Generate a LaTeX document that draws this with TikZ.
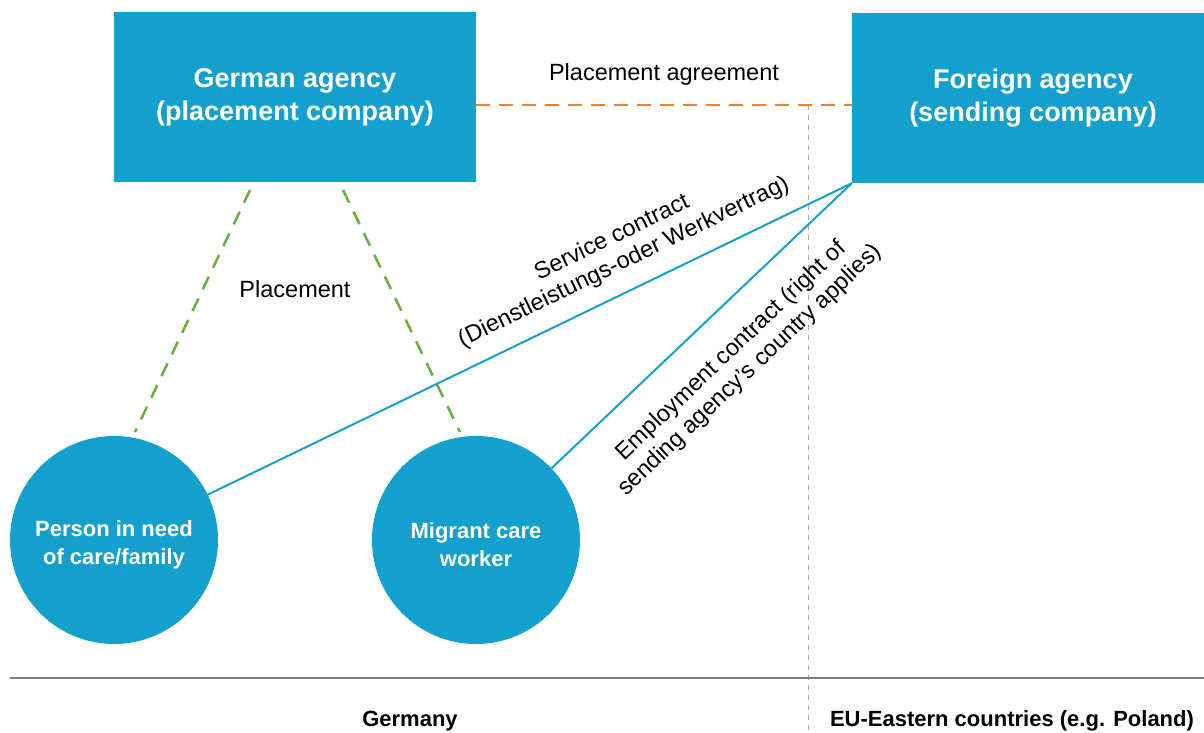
\documentclass[tikz,border=0pt]{standalone}
\usepackage{fontspec}
\setmainfont{Liberation Sans}
\definecolor{cblue}{RGB}{20,160,205}
\definecolor{corange}{RGB}{240,128,48}
\definecolor{cgreen}{RGB}{106,175,61}
\definecolor{cgrayline}{RGB}{125,125,125}
\definecolor{cgraydash}{RGB}{170,170,170}
\tikzset{
  agencybox/.style={fill=cblue, draw=none, text=white, font=\fontsize{27}{33}\selectfont\bfseries, align=center, inner sep=0pt},
  personcircle/.style={circle, fill=cblue, draw=none, minimum size=208pt, inner sep=0pt},
  persontext/.style={text=white, inner sep=0pt, font=\fontsize{22}{28}\selectfont\bfseries, align=center, yshift=-5pt},
  lbl/.style={font=\fontsize{23.5}{27}\selectfont, text=black, align=center, inner sep=0pt},
  regionlbl/.style={font=\fontsize{22}{26}\selectfont\bfseries, text=black, inner sep=0pt},
  contractline/.style={draw=cblue, line width=2pt},
  placementline/.style={draw=cgreen, line width=2.5pt, dash pattern=on 14pt off 10pt},
  agreementline/.style={draw=corange, line width=2.5pt, dash pattern=on 14pt off 9pt},
  borderline/.style={draw=cgraydash, line width=1pt, dash pattern=on 5pt off 5pt},
  groundline/.style={draw=cgrayline, line width=2pt}
}
\begin{document}
\begin{tikzpicture}[x=1pt, y=-1pt]
\useasboundingbox (0,0) rectangle (1204,733);
\fill[white] (0,0) rectangle (1204,733);

% agencies
\node[agencybox, minimum width=362pt, minimum height=170pt] (ga) at (295,97) {\rule{0pt}{0pt}German agency\\(placement company)};
\node[agencybox, minimum width=352pt, minimum height=170pt] (fa) at (1028,98) {\hspace*{10pt}Foreign agency\\\hspace*{10pt}(sending company)};

% persons
\node[personcircle, label={[persontext]center:Person in need\\of care/family}] (pc) at (114,540) {};
\node[personcircle, label={[persontext]center:Migrant care\\worker}] (mw) at (476,540) {};

% dividing lines
\coordinate (dl) at (0,105);
\coordinate (vtop) at (808,105);
\coordinate (vbot) at (808,733);
\draw[borderline] (vtop) -- (vbot);
\coordinate (gl) at (10,678);
\coordinate (gr) at (1204,678);
\draw[groundline] (gl) -- (gr);

% placement agreement
\draw[agreementline] (ga.east |- dl) -- (fa.west |- dl);
\node[lbl] (pa) at (664,74) {Placement agreement};

% placement
\coordinate (g1a) at (250,190);
\coordinate (g1b) at (135,432);
\coordinate (g2a) at (343,190);
\coordinate (g2b) at (460,432);
\draw[placementline] (g1a) -- (g1b);
\draw[placementline] (g2a) -- (g2b);
\node[lbl] (pl) at (295,289) {Placement};

% contracts
\draw[contractline] (pc) -- node[lbl, sloped, pos=0.665, above=16pt] (sc) {Service contract\\(Dienstleistungs-oder Werkvertrag)} (fa.south west);
\draw[contractline] (mw) -- node[lbl, sloped, pos=0.51, below=27pt] (ec) {Employment contract (right of\\sending agency's country applies)} (fa.south west);

% regions
\node[regionlbl] (de) at (410,721) {Germany};
\node[regionlbl] (ee) at (1012,721) {EU-Eastern countries (e.g. Poland)};
\end{tikzpicture}
\end{document}
